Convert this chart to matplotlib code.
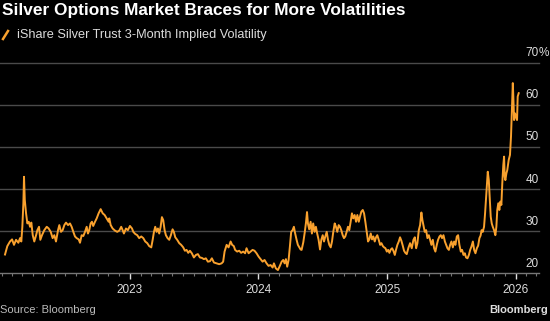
import matplotlib
matplotlib.use("Agg")
import matplotlib.pyplot as plt
import matplotlib.dates as mdates
import matplotlib.ticker as mticker
import matplotlib.transforms as mtransforms
from matplotlib.lines import Line2D
import numpy as np
import pandas as pd

title = "Silver Options Market Braces for More Volatilities"
series_name = "iShare Silver Trust 3-Month Implied Volatility"
source = "Source: Bloomberg"
brand = "Bloomberg"

# dates as decimal years, values in %
t_years = [
    2022.027, 2022.045, 2022.066, 2022.082, 2022.097, 2022.113, 2022.131, 2022.144,
    2022.154, 2022.162, 2022.170, 2022.175, 2022.181, 2022.191, 2022.201, 2022.212,
    2022.222, 2022.232, 2022.243, 2022.255, 2022.269, 2022.279, 2022.292, 2022.302,
    2022.315, 2022.333, 2022.352, 2022.367, 2022.383, 2022.398, 2022.411, 2022.424,
    2022.440, 2022.450, 2022.463, 2022.476, 2022.489, 2022.502, 2022.518, 2022.533,
    2022.546, 2022.559, 2022.572, 2022.585, 2022.601, 2022.611, 2022.624, 2022.637,
    2022.650, 2022.663, 2022.673, 2022.683, 2022.694, 2022.704, 2022.714, 2022.728,
    2022.741, 2022.756, 2022.772, 2022.788, 2022.803, 2022.819, 2022.834, 2022.839,
    2022.850, 2022.865, 2022.883, 2022.901, 2022.917, 2022.932, 2022.943, 2022.953,
    2022.969, 2022.984,
    2023.000, 2023.016, 2023.026, 2023.041, 2023.057, 2023.072, 2023.088, 2023.104,
    2023.119, 2023.135, 2023.150, 2023.166, 2023.177, 2023.187, 2023.197, 2023.208,
    2023.218, 2023.228, 2023.239, 2023.249, 2023.259, 2023.270, 2023.280, 2023.293,
    2023.306, 2023.319, 2023.332, 2023.342, 2023.353, 2023.368, 2023.384, 2023.399,
    2023.415, 2023.428, 2023.441, 2023.454, 2023.467, 2023.482, 2023.498, 2023.514,
    2023.529, 2023.545, 2023.560, 2023.576, 2023.591, 2023.607, 2023.623, 2023.638,
    2023.654, 2023.675, 2023.695, 2023.714, 2023.726, 2023.737, 2023.753, 2023.768,
    2023.784, 2023.796, 2023.809, 2023.819, 2023.835, 2023.851, 2023.866, 2023.882,
    2023.897, 2023.908, 2023.924, 2023.939, 2023.955, 2023.970, 2023.986,
    2024.002, 2024.017, 2024.033, 2024.048, 2024.064, 2024.079, 2024.095, 2024.111,
    2024.121, 2024.136, 2024.152, 2024.167, 2024.181, 2024.193, 2024.204, 2024.214,
    2024.224, 2024.235, 2024.245, 2024.255, 2024.266, 2024.276, 2024.286, 2024.297,
    2024.307, 2024.318, 2024.328, 2024.336, 2024.349, 2024.360, 2024.370, 2024.378,
    2024.385, 2024.395, 2024.406, 2024.416, 2024.426, 2024.437, 2024.447, 2024.457,
    2024.468, 2024.479, 2024.489, 2024.500, 2024.510, 2024.520, 2024.531, 2024.541,
    2024.551, 2024.562, 2024.572, 2024.582, 2024.593, 2024.603, 2024.613, 2024.624,
    2024.634, 2024.644, 2024.655, 2024.665, 2024.675, 2024.686, 2024.696, 2024.706,
    2024.717, 2024.727, 2024.737, 2024.748, 2024.759, 2024.769, 2024.780, 2024.790,
    2024.800, 2024.811, 2024.821, 2024.831, 2024.842, 2024.852, 2024.862, 2024.873,
    2024.883, 2024.893, 2024.904, 2024.914, 2024.924, 2024.935, 2024.946, 2024.956,
    2024.967, 2024.977, 2024.987, 2024.998,
    2025.008, 2025.018, 2025.029, 2025.039, 2025.049, 2025.060, 2025.070, 2025.080,
    2025.091, 2025.101, 2025.111, 2025.122, 2025.132, 2025.142, 2025.153, 2025.166,
    2025.179, 2025.192, 2025.205, 2025.216, 2025.226, 2025.236, 2025.247, 2025.257,
    2025.267, 2025.275, 2025.283, 2025.293, 2025.304, 2025.314, 2025.325, 2025.335,
    2025.345, 2025.356, 2025.366, 2025.376, 2025.387, 2025.397, 2025.408, 2025.418,
    2025.428, 2025.439, 2025.450, 2025.460, 2025.470, 2025.481, 2025.491, 2025.501,
    2025.512, 2025.522, 2025.532, 2025.543, 2025.553, 2025.563, 2025.574, 2025.584,
    2025.595, 2025.605, 2025.615, 2025.626, 2025.637, 2025.647, 2025.657, 2025.668,
    2025.678, 2025.688, 2025.699, 2025.709, 2025.719, 2025.728, 2025.736, 2025.745,
    2025.755, 2025.763, 2025.771, 2025.778, 2025.784, 2025.792, 2025.799, 2025.807,
    2025.815, 2025.823, 2025.833, 2025.843, 2025.851, 2025.858, 2025.866, 2025.874,
    2025.882, 2025.890, 2025.897, 2025.905, 2025.911, 2025.916, 2025.921, 2025.929,
    2025.936, 2025.947, 2025.957, 2025.965, 2025.973, 2025.979, 2025.983, 2025.989,
    2025.996, 2026.004, 2026.012, 2026.017, 2026.025,
]
implied_vol = [
    24.4, 26.4, 27.5, 28.0, 26.7, 27.9, 27.2, 28.3,
    27.5, 31.0, 36.6, 42.9, 37.4, 34.2, 31.8, 32.2,
    31.0, 32.0, 29.0, 27.5, 29.0, 30.2, 31.0, 27.9,
    29.0, 30.2, 31.0, 30.6, 29.8, 28.3, 29.0, 27.5,
    30.2, 31.4, 29.8, 30.2, 31.4, 32.0, 31.4, 31.8,
    31.0, 29.8, 28.7, 28.3, 28.0, 27.2, 29.0, 28.8,
    29.8, 31.0, 29.4, 30.2, 31.8, 32.2, 31.2, 32.2,
    33.0, 34.2, 35.2, 34.2, 33.8, 33.0, 32.2, 33.0,
    31.4, 30.6, 30.1, 29.8, 30.1, 31.0, 30.2, 29.4,
    30.6, 30.2,
    31.2, 30.6, 29.8, 29.3, 29.0, 28.3, 28.7, 28.3,
    27.5, 27.1, 26.4, 26.1, 27.9, 29.8, 31.0, 29.8,
    30.6, 29.4, 31.0, 33.3, 32.6, 30.2, 29.0, 28.3,
    27.9, 29.0, 30.4, 29.8, 28.5, 27.9, 27.1, 26.7,
    26.1, 25.3, 25.5, 24.8, 25.3, 24.7, 23.7, 24.3,
    24.5, 23.7, 23.6, 23.3, 23.5, 22.7, 22.8, 23.5,
    22.5, 22.3, 22.1, 22.3, 22.7, 25.1, 26.7, 26.1,
    27.5, 26.7, 26.4, 25.5, 25.1, 25.3, 24.8, 25.1,
    24.7, 25.9, 24.7, 25.1, 25.5, 25.3, 24.7,
    23.9, 23.3, 22.7, 23.1, 22.3, 21.7, 21.9, 21.3,
    22.3, 21.1, 20.7, 21.7, 22.7, 23.1, 22.3, 23.3,
    21.5, 23.1, 26.3, 29.8, 30.2, 31.0, 29.4, 27.9,
    26.7, 26.1, 25.6, 25.5, 27.3, 29.6, 32.0, 34.5,
    31.8, 30.4, 32.2, 29.4, 31.8, 29.8, 31.0, 29.4,
    27.9, 25.6, 27.9, 29.0, 27.5, 28.7, 29.8, 27.9,
    26.7, 26.1, 27.5, 29.8, 31.8, 31.0, 29.8, 31.4,
    31.0, 30.2, 29.0, 28.3, 28.7, 29.8, 31.0, 30.2,
    32.2, 34.2, 33.0, 33.8, 32.2, 33.8, 32.2, 33.5,
    34.6, 35.0, 34.2, 32.2, 29.8, 27.5, 28.0, 29.4,
    28.0, 28.7, 27.5, 28.5, 29.0, 27.9, 26.7, 27.1,
    26.4, 26.1, 25.9, 25.1,
    25.5, 24.8, 25.6, 25.9, 25.3, 24.3, 25.6, 26.7,
    27.5, 28.5, 27.7, 26.5, 25.3, 24.8, 24.5, 26.0,
    27.1, 25.9, 27.9, 28.5, 25.9, 27.1, 30.2, 31.4,
    34.4, 32.6, 31.4, 29.8, 30.2, 28.3, 29.0, 27.9,
    26.7, 27.9, 25.9, 25.1, 26.7, 27.9, 28.7, 29.0,
    28.3, 29.0, 27.5, 26.7, 25.9, 25.5, 26.7, 27.5,
    26.1, 27.5, 26.7, 28.7, 29.0, 26.7, 25.1, 25.5,
    24.3, 24.7, 23.7, 23.5, 24.3, 25.5, 26.3, 27.5,
    25.5, 24.7, 25.9, 26.5, 28.3, 28.9, 30.2, 29.8,
    31.0, 34.2, 38.2, 41.3, 44.1, 42.1, 38.2, 33.4,
    31.8, 31.0, 30.2, 29.0, 31.0, 35.0, 36.6, 35.0,
    37.0, 36.2, 41.3, 45.7, 47.7, 42.9, 42.1, 43.7,
    44.5, 46.9, 48.1, 52.5, 59.6, 65.2, 62.0, 56.4,
    58.0, 57.2, 56.4, 62.0, 62.8,
]

y_ticks = [20, 30, 40, 50, 60, 70]
y_labels = ["20", "30", "40", "50", "60", "70"]
year_ticks = [2023, 2024, 2025, 2026]
x_start, x_end = 2021.988, 2026.183


def to_date(y):
    year = int(np.floor(y))
    start = pd.Timestamp(year=year, month=1, day=1)
    end = pd.Timestamp(year=year + 1, month=1, day=1)
    return start + (end - start) * (y - year)


dates = [to_date(t) for t in t_years]

ORANGE = "#F9A12E"
TEXT = "#dcdcdc"
GRID = "#4a4a4a"
plt.rcParams["font.family"] = ["Liberation Sans", "DejaVu Sans"]

fig = plt.figure(figsize=(5.5, 3.21), dpi=100, facecolor="black")
ax = fig.add_axes([0, 0.1495, 0.98, 0.6545])
ax.set_facecolor("black")

ax.plot(dates, implied_vol, color=ORANGE, lw=1.4, solid_joinstyle="round", zorder=3)
ax.set_ylim(y_ticks[0], y_ticks[-1])
ax.set_xlim(to_date(x_start), to_date(x_end))

for v in y_ticks[1:]:
    ax.axhline(v, color=GRID, lw=1.0, zorder=1, clip_on=False)

for s in ["top", "left", "right"]:
    ax.spines[s].set_visible(False)
ax.spines["bottom"].set_color("#777777")
ax.spines["bottom"].set_linewidth(1.0)

ax.set_yticks([])
ax.xaxis.set_major_locator(mticker.FixedLocator(
    [mdates.date2num(pd.Timestamp(year=y, month=1, day=1)) for y in year_ticks]))
ax.xaxis.set_major_formatter(mdates.DateFormatter("%Y"))
ax.xaxis.set_minor_locator(mdates.MonthLocator())
ax.tick_params(axis="x", which="major", length=4, width=1, color="#e0e0e0",
               labelcolor=TEXT, labelsize=8.5, pad=4)
ax.tick_params(axis="x", which="minor", length=2.2, width=0.8, color="#777777")

# y labels sit just above their gridlines, on the right
trans = mtransforms.blended_transform_factory(ax.transAxes, ax.transData)
off = mtransforms.offset_copy(trans, fig=fig, x=0, y=2.5, units="points")
for v, lab in zip(y_ticks, y_labels):
    ax.text(1.0, v, lab, transform=off, ha="right", va="bottom",
            color=TEXT, fontsize=8.5)
ax.text(1.0, y_ticks[-1], "%", transform=off, ha="left", va="bottom",
        color=TEXT, fontsize=8.5)

fig.text(0.004, 1 - 11 / 321, title, ha="left", va="center", color="white",
         fontsize=12.4, fontweight="bold")
fig.add_artist(Line2D([3 / 550, 8 / 550], [1 - 39 / 321, 1 - 31 / 321],
                      color=ORANGE, lw=1.8, transform=fig.transFigure))
fig.text(17 / 550, 1 - 35 / 321, series_name, ha="left", va="center",
         color=TEXT, fontsize=9.2)
fig.text(0.0, 1 - 310 / 321, source, ha="left", va="center",
         color="#bbbbbb", fontsize=8)
fig.text(548 / 550, 1 - 310 / 321, brand, ha="right", va="center",
         color="#dddddd", fontsize=8, fontweight="bold")

fig.savefig("out.png", dpi=100, facecolor="black")
plt.close(fig)
